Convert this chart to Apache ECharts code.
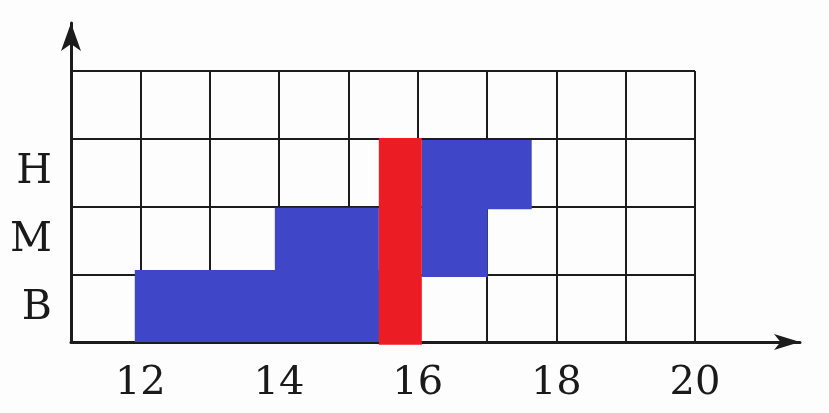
<!DOCTYPE html>
<html>
<head>
<meta charset="utf-8">
<script src="https://cdn.jsdelivr.net/npm/echarts@6/dist/echarts.min.js"></script>
<style>
html,body{margin:0;padding:0;background:#fdfdfd;}
#c{width:829px;height:413px;}
</style>
</head>
<body>
<div id="c"></div>
<script>
// x-axis tick labels (only even values shown)
const xTickLabels = ['12', '14', '16', '18', '20'];
// y-axis row labels (bottom to top)
const yCategories = ['B', 'M', 'H', ''];

// blue regions: start x, end x, low y, high y
const blueStart = [11.92, 13.94, 16.06, 16.06];
const blueEnd   = [15.44, 15.44, 17.01, 17.645];
const blueLow   = [0, 0, 0.96, 1.96];
const blueHigh  = [1.063, 1.98, 1.97, 2.98];

// red region
const redStart = [15.44];
const redEnd   = [16.06];
const redLow   = [-0.04];
const redHigh  = [3.01];

function rects(s, e, l, h) {
  return s.map((v, i) => [v, e[i], l[i], h[i]]);
}

function renderRect(params, api) {
  const p0 = api.coord([api.value(0), api.value(2)]);
  const p1 = api.coord([api.value(1), api.value(3)]);
  return {
    type: 'rect',
    shape: { x: p0[0], y: p1[1], width: p1[0] - p0[0], height: p0[1] - p1[1] },
    style: { fill: api.visual('color') }
  };
}

const chart = echarts.init(document.getElementById('c'), null, { renderer: 'canvas' });
const lineColor = '#1c1c1c';
chart.setOption({
  backgroundColor: '#fdfdfd',
  animation: false,
  grid: [
    { left: 71, right: 134, top: 71, bottom: 71 },
    { left: 71, right: 29, top: 23, bottom: 71 }
  ],
  xAxis: [
    {
      gridIndex: 0, type: 'value', min: 11, max: 20, interval: 1,
      axisLine: { show: false }, axisTick: { show: false },
      splitLine: { show: true, showMinLine: true, showMaxLine: true, lineStyle: { color: lineColor, width: 2 } },
      axisLabel: {
        margin: 22,
        fontFamily: 'DejaVu Serif', fontSize: 40, color: '#1a1a1a',
        formatter: v => xTickLabels.indexOf(String(v)) >= 0 ? String(v) : ''
      }
    },
    {
      gridIndex: 1, type: 'value', min: 0, max: 1,
      axisLine: { show: true, symbol: ['none', 'arrow'], symbolSize: [12, 26], lineStyle: { color: lineColor, width: 3 } },
      axisTick: { show: false }, axisLabel: { show: false }, splitLine: { show: false }
    }
  ],
  yAxis: [
    {
      gridIndex: 0, type: 'value', min: 0, max: 4, interval: 1,
      axisLine: { show: false }, axisTick: { show: false }, axisLabel: { show: false },
      splitLine: { show: true, showMinLine: true, showMaxLine: true, lineStyle: { color: lineColor, width: 2 } }
    },
    {
      gridIndex: 0, type: 'category', data: yCategories, boundaryGap: true, position: 'left',
      axisLine: { show: false }, axisTick: { show: false }, splitLine: { show: false },
      axisLabel: { margin: 19, fontFamily: 'DejaVu Serif', fontSize: 41, color: '#1a1a1a' }
    },
    {
      gridIndex: 1, type: 'value', min: 0, max: 1,
      axisLine: { show: true, symbol: ['none', 'arrow'], symbolSize: [15, 28], lineStyle: { color: lineColor, width: 3 } },
      axisTick: { show: false }, axisLabel: { show: false }, splitLine: { show: false }
    }
  ],
  series: [
    {
      type: 'custom', xAxisIndex: 0, yAxisIndex: 0,
      itemStyle: { color: '#3f47c8' },
      renderItem: renderRect,
      encode: { x: [0, 1], y: [2, 3] },
      data: rects(blueStart, blueEnd, blueLow, blueHigh)
    },
    {
      type: 'custom', xAxisIndex: 0, yAxisIndex: 0,
      itemStyle: { color: '#ec1c24' },
      renderItem: renderRect,
      encode: { x: [0, 1], y: [2, 3] },
      data: rects(redStart, redEnd, redLow, redHigh)
    }
  ]
});
</script>
</body>
</html>
